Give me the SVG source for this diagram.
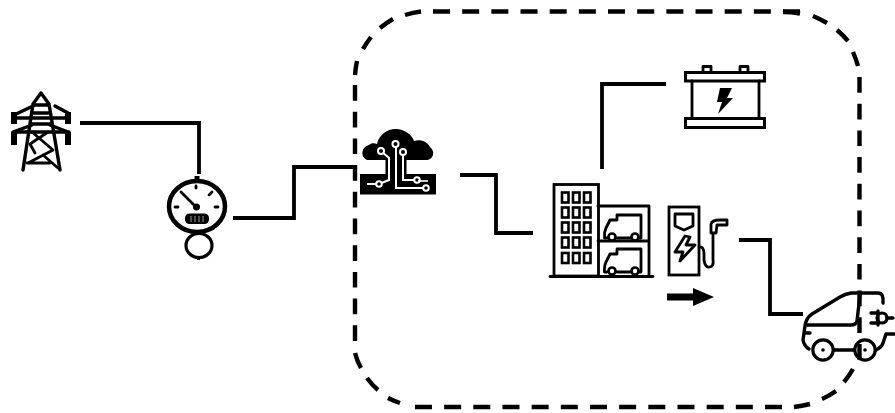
<svg xmlns="http://www.w3.org/2000/svg" width="895" height="413" viewBox="0 0 895 413">
<defs><style>
.b{fill:none;stroke:#000;stroke-width:4.4}
.h{stroke-dasharray:17 12.170}
.v{stroke-dasharray:15.700 11}
.l{fill:none;stroke:#000;stroke-width:3.8;stroke-linejoin:miter}
.t{fill:none;stroke:#000;stroke-width:2.8;stroke-linejoin:round;stroke-linecap:round}
.m{fill:none;stroke:#000;stroke-width:3.4;stroke-linejoin:round;stroke-linecap:round}
.k{fill:#000}
.w{fill:#fff;stroke:#000;stroke-width:2.6}
.win{fill:none;stroke:#000;stroke-width:2.6}
</style></defs>
<rect width="895" height="413" fill="#fff"/>
<g id="boundary">
<path class="b h" d="M433 11.500H800"/>
<path class="b h" d="M782 407H415"/>
<path class="b v" d="M859.500 77V360"/>
<path class="b v" d="M355 85V343"/>
<path class="b" d="M355 75Q355.500 68 357 61M363 49Q366.500 43 371 37M380 28Q386 23 393 19M405 15Q413 12.500 421 11.500M783 12Q792 12 800 13.500M813 16Q820 19 827 23M837 30Q843 35 848 41M853 52Q856 59 858 66M794 407Q802 406 810 404M822 399Q829 396 836 391M844 382Q849 376 853 369M355 353Q357 361 361 368M367 378Q372 385 378 390M388 398Q394 401 400 403"/>
</g>
<g id="connectors">
<path class="l" d="M80 123H199V174"/>
<path class="l" d="M233 218H294V167H357"/>
<path class="l" d="M460 175H496V233H533"/>
<path class="l" d="M602 169V84H666"/>
<path class="l" d="M739 240H770V314H803"/>
</g>
<g id="tower">
<path class="m" d="M41 93L33 104L23 170M41 93L49 104L60 170M33 105H49M32 113H50M31 124H51"/>
<path class="m" d="M33 106L14 115M55 106L68 113M13 118H69M32 125L13 132H69M50 125L68 132"/>
<path class="k" d="M11 112H17V124H11ZM65 112H71V124H65ZM11 132H17V145H11ZM65 132H71V145H65Z"/>
<path class="t" d="M32 132L53 150L28 163M48 132L30 144L35 153M27 163H50M43 155L58 168"/>
</g>
<g id="meter">
<ellipse cx="197" cy="206.500" rx="28" ry="25.500" fill="#fff" stroke="#000" stroke-width="4.500"/>
<ellipse cx="199" cy="245.500" rx="13" ry="12" fill="#fff" stroke="#000" stroke-width="3.200"/>
<path class="t" d="M196 186V188M175 207H178M215 207H218M209 195L212 192M181 192L196 207"/>
<circle class="k" cx="196.500" cy="207" r="3.500"/>
<rect class="k" x="185" y="213.500" width="24" height="10.500" rx="4.500"/>
<path d="M191 216V222M195 216V222M199 216V222M203 216V222" stroke="#777" stroke-width="1.300"/>
<rect class="k" x="194.500" y="176" width="5" height="5"/>
<rect class="k" x="197" y="257" width="3" height="3"/>
</g>
<g id="cloud">
<path class="k" d="M367 160C360 157 361 147 369 145C371 143 374 143 377 144C379 134 389 128 397 129C406 130 412 135 414 141C420 139 427 141 430 147C436 152 433 160 426 160Z"/>
<rect class="k" x="360" y="174" width="76" height="20.500"/>
<rect class="k" x="385.500" y="158" width="21" height="18"/>
<g fill="none" stroke="#fff" stroke-width="2">
<path d="M381 151L389 158V180L379 184H367"/>
<path d="M396 144V188H425"/>
<path d="M403 153V180H417"/>
</g>
<g fill="#000" stroke="#fff" stroke-width="2">
<circle cx="381" cy="151" r="3"/><circle cx="395.500" cy="144" r="3"/><circle cx="403" cy="152" r="3"/>
<circle cx="379" cy="184" r="2.800"/><circle cx="417" cy="180" r="2.800"/><circle cx="426" cy="188" r="2.800"/>
</g>
<path d="M418 181H428" stroke="#fff" stroke-width="1.600"/>
</g>
<g id="building">
<rect x="554" y="184.500" width="44.500" height="91.500" fill="#fff" stroke="#000" stroke-width="2.800"/>
<path class="t" d="M550 276.500H653M598 206H649V276M598 241H649"/>
<g>
<rect class="win" x="562" y="192.500" width="6.500" height="10"/><rect class="win" x="573" y="192.500" width="6.500" height="10"/><rect class="win" x="584" y="192.500" width="6.500" height="10"/>
<rect class="win" x="562" y="207.500" width="6.500" height="10"/><rect class="win" x="573" y="207.500" width="6.500" height="10"/><rect class="win" x="584" y="207.500" width="6.500" height="10"/>
<rect class="win" x="562" y="222.500" width="6.500" height="10"/><rect class="win" x="573" y="222.500" width="6.500" height="10"/><rect class="win" x="584" y="222.500" width="6.500" height="10"/>
<rect class="win" x="562" y="237.500" width="6.500" height="10"/><rect class="win" x="573" y="237.500" width="6.500" height="10"/><rect class="win" x="584" y="237.500" width="6.500" height="10"/>
<rect class="win" x="562" y="253" width="6.500" height="10"/><rect class="win" x="573" y="253" width="6.500" height="10"/><rect class="win" x="584" y="253" width="6.500" height="10"/>
</g>
<path class="t" d="M607 238H604.500Q604 232 606 228L610 220H617V215H641V238H639M617 238H631"/>
<circle cx="612" cy="237" r="3.500" class="w"/><circle cx="635" cy="237" r="3.500" class="w"/>
<path class="t" d="M607 272H604.500Q604 266 606 262L610 254H617V249H641V272H639M617 272H631"/>
<circle cx="612" cy="271" r="3.500" class="w"/><circle cx="635" cy="271" r="3.500" class="w"/>
</g>
<g id="charger">
<rect x="669" y="207" width="30" height="68" fill="#fff" stroke="#000" stroke-width="2.800"/>
<path class="t" d="M675 214H693V226L684 230L675 226Z"/>
<path class="t" d="M685 236L675 252H683L680 261L695 245H686L690 237Z"/>
<path class="t" d="M699 247Q704 246 704 254V260Q705 268 710 267Q714 266 713 260V235"/>
<path class="t" d="M711 233V224Q712 220 720 220H727V225H717L716 233Z"/>
</g>
<g id="arrow">
<path class="k" d="M667 293.500H693V288L714 297L693 306V300.500H667Z"/>
</g>
<g id="battery">
<rect x="685.500" y="72.500" width="79" height="8.500" fill="#fff" stroke="#000" stroke-width="3"/>
<rect x="685.500" y="118.500" width="79" height="9" fill="#fff" stroke="#000" stroke-width="3"/>
<path class="t" d="M692 81V118M759 81V118M703 72V66.500H711V72M740 72V66.500H748V72" stroke-width="3"/>
<path class="k" d="M720 88H732L727 98H733L718 114L722 102H717Z"/>
</g>
<g id="car">
<path class="m" d="M859 293H878Q884 293 883 303"/>
<path class="m" d="M859 293H851Q845 294 840 297L812 314Q806 318 805 326L803 340Q804 346 809 349"/>
<path class="m" d="M807 325H851Q856 325 857 321L860 295"/>
<path class="m" d="M805 333H810M834 350H854M876 350Q882 347 883 343L886 334H894"/>
<circle cx="823" cy="350" r="10.200" fill="#fff" stroke="#000" stroke-width="3.200"/><circle cx="823" cy="350" r="1.800" class="k"/>
<circle cx="865" cy="350" r="10.200" fill="none" stroke="#000" stroke-width="3.200"/><circle cx="865" cy="350" r="1.800" class="k"/>
<circle cx="882" cy="318" r="5" fill="#fff" stroke="#000" stroke-width="3.200"/>
<path class="m" d="M878 311V325M871 313H878M871 323H878M887 318H893"/>
</g>
</svg>
